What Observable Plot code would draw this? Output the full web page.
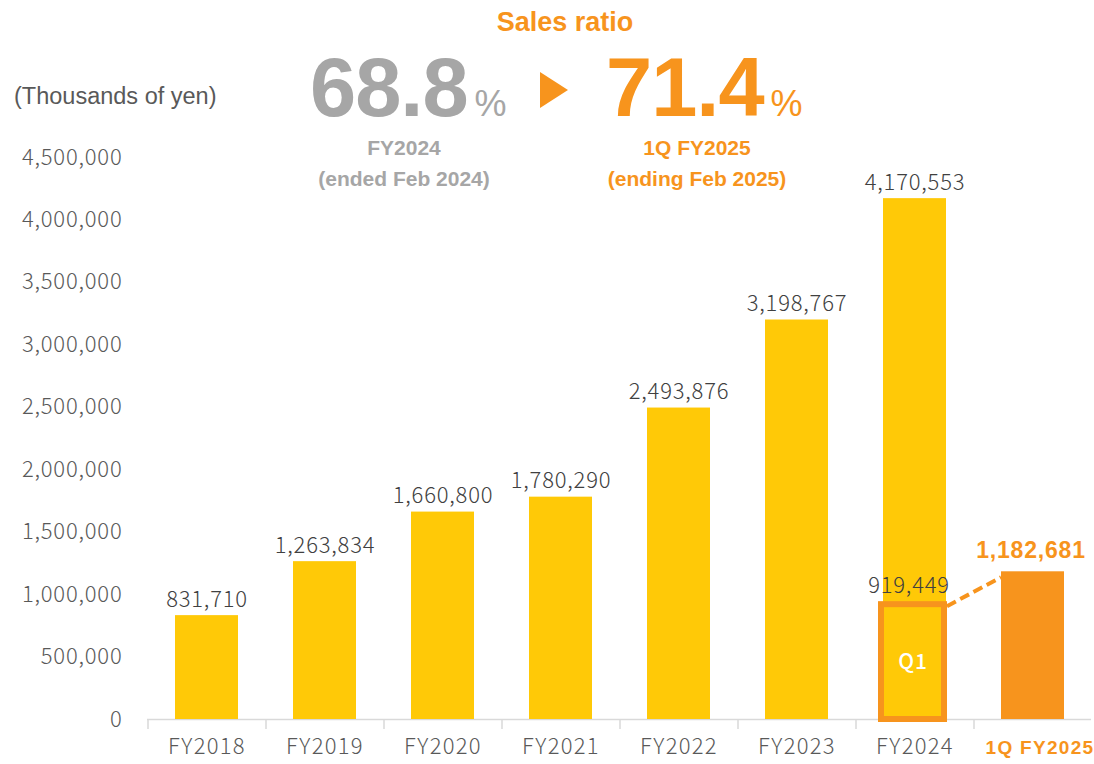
<!DOCTYPE html>
<html><head><meta charset="utf-8">
<script src="https://cdn.jsdelivr.net/npm/d3@7"></script>
<script src="https://cdn.jsdelivr.net/npm/@observablehq/plot@0.6"></script>
<style>
body{margin:0;background:#fff;}
#wrap{position:relative;width:1094px;height:764px;overflow:hidden;}
#wrap svg.overlay{position:absolute;left:0;top:0;pointer-events:none;}
</style></head><body><div id="wrap"></div>
<script>
// ---- data ----
const categories = ["FY2018","FY2019","FY2020","FY2021","FY2022","FY2023","FY2024","1Q FY2025"];
const sales = [831710,1263834,1660800,1780290,2493876,3198767,4170553,1182681];
const q1Category = "FY2024";
const q1Value = 919449;
const q1Label = "Q1";
const yTicks = [0,500000,1000000,1500000,2000000,2500000,3000000,3500000,4000000,4500000];
const unitLabel = "(Thousands of yen)";
const ratioTitle = "Sales ratio";
const ratioPrev = "68.8";
const ratioCurr = "71.4";
const ratioPrevLabel = ["FY2024","(ended Feb 2024)"];
const ratioCurrLabel = ["1Q FY2025","(ending Feb 2025)"];

// ---- styles ----
const yellow = "#FFC907";
const orange = "#F7941D";
const grey = "#595959";
const dark = "#404040";
const lightGrey = "#A6A6A6";
const jp = "'Noto Sans CJK JP', 'Noto Sans', sans-serif";
const arial = "'Liberation Sans', Arial, sans-serif";
const fmt = d3.format(",");

const lastCat = categories[categories.length - 1];
const data = categories.map((c, i) => ({cat: c, v: sales[i], latest: c === lastCat}));
const mainBars = data.filter(d => !d.latest);
const latestBar = data.filter(d => d.latest);
const q1 = [{cat: q1Category, v: q1Value}];

const chart = Plot.plot({
  width: 1094, height: 764,
  marginTop: 157, marginBottom: 45, marginLeft: 147, marginRight: 3,
  style: {fontFamily: jp, fontSize: "22px", fontWeight: 300, letterSpacing: "0.8px", color: grey, background: "white"},
  x: {domain: categories, paddingInner: 0.47, paddingOuter: 0.235, label: null},
  y: {domain: [0, 4500000], label: null},
  marks: [
    Plot.ruleY([0], {stroke: "#D9D9D9", strokeWidth: 1.5}),
    Plot.axisX({tickSize: 10, dx: -59, tickFormat: () => "", stroke: "#D9D9D9", strokeWidth: 1.5, label: null}),
    Plot.axisX({ticks: categories.filter(c => c !== lastCat), tickSize: 0, tickPadding: 19, fontSize: 22, fontWeight: 300, fill: grey, label: null, className: "xlab"}),
    Plot.axisX({ticks: [lastCat], tickSize: 0, tickPadding: 21, fontSize: 19, fontWeight: "bold", fontFamily: arial, fill: orange, dx: 7, label: null}),
    Plot.axisY({ticks: yTicks, tickSize: 0, tickPadding: 25, tickFormat: fmt, fontSize: 22, fontWeight: 300, fill: grey, label: null}),
    Plot.barY(data, {x: "cat", y: "v", fill: d => d.latest ? orange : yellow}),
    Plot.barY(q1, {x: "cat", y: "v", fill: yellow, stroke: orange, strokeWidth: 6, dx: -2}),
    Plot.text(mainBars, {x: "cat", y: "v", text: d => fmt(d.v), lineAnchor: "bottom", dy: -9, fill: dark, fontSize: 22, fontWeight: 300}),
    Plot.text(q1, {x: "cat", y: "v", text: d => fmt(d.v), lineAnchor: "bottom", dy: -12, dx: -6, fill: dark, fontSize: 22, fontWeight: 300}),
    Plot.text(q1, {x: "cat", y: d => d.v / 2, text: () => q1Label, fill: "white", fontSize: 21, fontWeight: 500, dx: -2}),
    Plot.text(latestBar, {x: "cat", y: "v", text: d => fmt(d.v), lineAnchor: "bottom", dy: -14, dx: -2, fill: orange, fontSize: 23, fontWeight: "bold", fontFamily: arial})
  ]
});
document.getElementById("wrap").appendChild(chart);
d3.select(chart).selectAll("g[aria-label='x-axis tick label'] text").style("letter-spacing", "1.3px");

// dashed connector from the Q1 box to the 1Q bar, positioned with the chart's scales
const sx = chart.scale("x"), sy = chart.scale("y");
const svg = d3.select(chart);
svg.append("line")
  .attr("x1", sx.apply(q1Category) + sx.bandwidth + 1)
  .attr("y1", sy.apply(q1Value) + 2)
  .attr("x2", sx.apply(lastCat))
  .attr("y2", sy.apply(sales[sales.length - 1]) + 6)
  .attr("stroke", orange).attr("stroke-width", 4).attr("stroke-dasharray", "10,5");

// header annotations
const ov = d3.select("#wrap").append("svg").attr("class", "overlay").attr("width", 1094).attr("height", 200);
ov.append("text").attr("x", 565).attr("y", 31).attr("text-anchor", "middle")
  .attr("font-family", arial).attr("font-weight", "bold").attr("font-size", 27).attr("fill", orange).text(ratioTitle);
ov.append("text").attr("x", 14).attr("y", 104)
  .attr("font-family", arial).attr("font-size", 23.5).attr("fill", grey).text(unitLabel);
function big(x, val, color) {
  const t = ov.append("text").attr("x", x).attr("y", 116).attr("font-family", arial).attr("fill", color);
  t.append("tspan").attr("font-weight", "bold").attr("font-size", 83).attr("letter-spacing", -1).text(val);
  t.append("tspan").attr("font-size", 36).attr("dx", 7).text("%");
}
big(310, ratioPrev, lightGrey);
big(606, ratioCurr, orange);
ov.append("path").attr("d", "M540,72L568,90L540,108Z").attr("fill", orange);
function sub(x, lines, color) {
  lines.forEach((s, i) => ov.append("text").attr("x", x).attr("y", 155 + i * 31).attr("text-anchor", "middle")
    .attr("font-family", arial).attr("font-weight", "bold").attr("font-size", 21).attr("fill", color).text(s));
}
sub(404, ratioPrevLabel, lightGrey);
sub(697, ratioCurrLabel, orange);
</script></body></html>
